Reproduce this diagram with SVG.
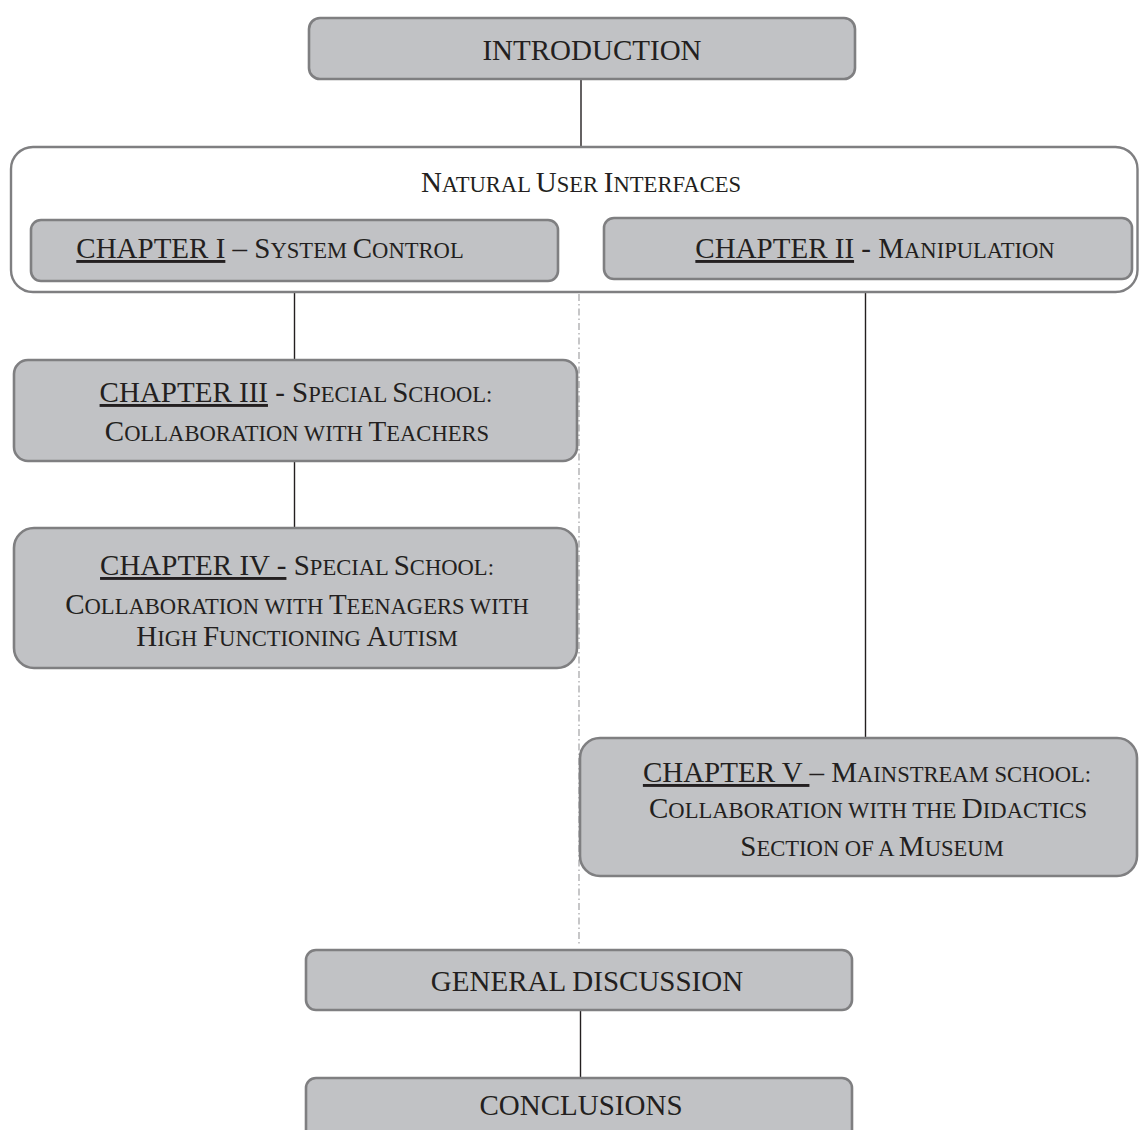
<svg xmlns="http://www.w3.org/2000/svg" width="1139" height="1130" viewBox="0 0 1139 1130">
<style>
.box{fill:#c1c2c5;stroke:#7f7f81;stroke-width:2.6}
.frame{fill:#ffffff;stroke:#7f7f81;stroke-width:2.4}
.t{font-family:"Liberation Serif","Times New Roman",serif;font-size:29px;fill:#231f20;text-anchor:middle}
.sc{font-size:22.6px}
.u{text-decoration:underline}
.ln{stroke:#231f20;stroke-width:1.4;fill:none}
.dd{stroke:#a9a9ab;stroke-width:1.3;fill:none;stroke-dasharray:7 3 1.5 3}
</style>
<rect width="1139" height="1130" fill="#ffffff"/>
<g id="connectors">
<line class="ln" x1="581" y1="79" x2="581" y2="147"/>
<line class="ln" x1="294.5" y1="292" x2="294.5" y2="360"/>
<line class="ln" x1="294.5" y1="461" x2="294.5" y2="528"/>
<line class="ln" x1="865.5" y1="292" x2="865.5" y2="738"/>
<line class="ln" x1="580.5" y1="1010" x2="580.5" y2="1078"/>
<line class="dd" x1="579" y1="294" x2="579" y2="946"/>
</g>
<g id="introduction">
<rect class="box" x="309" y="18" width="546" height="61" rx="11"/>
<text class="t" x="592" y="60">INTRODUCTION</text>
</g>
<g id="natural-user-interfaces">
<rect class="frame" x="11" y="147" width="1126.5" height="145" rx="22"/>
<text class="t" x="581" y="192">N<tspan class="sc">ATURAL </tspan>U<tspan class="sc">SER </tspan>I<tspan class="sc">NTERFACES</tspan></text>
</g>
<g id="chapter-1">
<rect class="box" x="31" y="220" width="527" height="61" rx="10"/>
<text class="t" x="270" y="258"><tspan class="u">CHAPTER I</tspan> – S<tspan class="sc">YSTEM </tspan>C<tspan class="sc">ONTROL</tspan></text>
</g>
<g id="chapter-2">
<rect class="box" x="604" y="218" width="528" height="61" rx="10"/>
<text class="t" x="875" y="258"><tspan class="u">CHAPTER II</tspan> - M<tspan class="sc">ANIPULATION</tspan></text>
</g>
<g id="chapter-3">
<rect class="box" x="14" y="360" width="563" height="101" rx="14"/>
<text class="t" x="296" y="402"><tspan class="u">CHAPTER III</tspan> - S<tspan class="sc">PECIAL </tspan>S<tspan class="sc">CHOOL:</tspan></text>
<text class="t" x="297" y="441">C<tspan class="sc">OLLABORATION WITH </tspan>T<tspan class="sc">EACHERS</tspan></text>
</g>
<g id="chapter-4">
<rect class="box" x="14" y="528" width="563" height="140" rx="20"/>
<text class="t" x="297" y="575"><tspan class="u">CHAPTER IV -</tspan> S<tspan class="sc">PECIAL </tspan>S<tspan class="sc">CHOOL:</tspan></text>
<text class="t" x="297" y="614">C<tspan class="sc">OLLABORATION WITH </tspan>T<tspan class="sc">EENAGERS WITH</tspan></text>
<text class="t" x="297" y="646">H<tspan class="sc">IGH </tspan>F<tspan class="sc">UNCTIONING </tspan>A<tspan class="sc">UTISM</tspan></text>
</g>
<g id="chapter-5">
<rect class="box" x="580" y="738" width="557" height="138" rx="20"/>
<text class="t" x="867" y="782"><tspan class="u">CHAPTER V </tspan>– M<tspan class="sc">AINSTREAM SCHOOL:</tspan></text>
<text class="t" x="868" y="818">C<tspan class="sc">OLLABORATION WITH THE </tspan>D<tspan class="sc">IDACTICS</tspan></text>
<text class="t" x="872" y="856">S<tspan class="sc">ECTION OF A </tspan>M<tspan class="sc">USEUM</tspan></text>
</g>
<g id="general-discussion">
<rect class="box" x="306" y="950" width="546" height="60" rx="10"/>
<text class="t" x="587" y="991">GENERAL DISCUSSION</text>
</g>
<g id="conclusions">
<rect class="box" x="306" y="1078" width="546" height="80" rx="10"/>
<text class="t" x="581" y="1115">CONCLUSIONS</text>
</g>
</svg>
